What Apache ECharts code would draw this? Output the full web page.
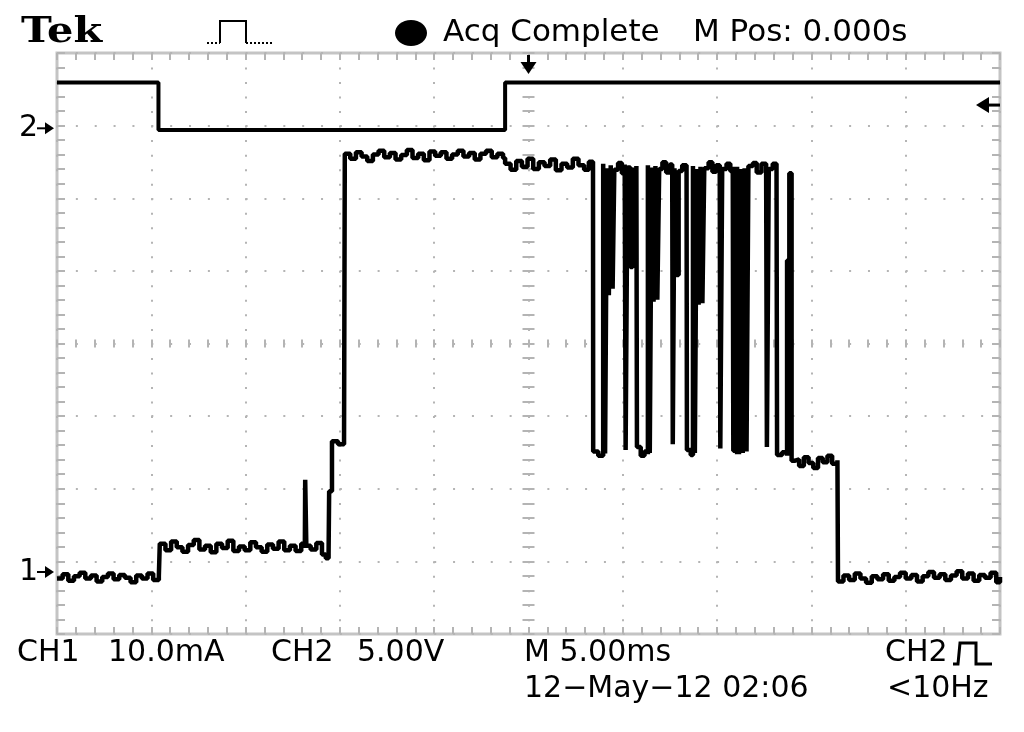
<!DOCTYPE html>
<html>
<head>
<meta charset="utf-8">
<title>Tek capture - CH1 current / CH2 voltage</title>
<script src="https://cdn.jsdelivr.net/npm/echarts@6/dist/echarts.min.js"></script>
<style>
  html, body { margin: 0; padding: 0; background: #fff; }
  #chart { width: 1024px; height: 732px; }
</style>
</head>
<body>
<div id="chart"></div>
<script>
// horizontal: 5.00 ms/div over 10 div, M Pos 0.000s -> trigger at centre
const timeRange = [-25, 25]

// CH1 (mA), [time ms, current mA]
const ch1Trace = [
  // idle
  [-25, -0.9], [-24.7, -0.3], [-24.4, -1.2], [-24.1, -0.6], [-23.8, -0.1], [-23.5, -0.9],
  [-23.2, -0.5], [-22.9, -1.3], [-22.6, -0.7], [-22.3, -0.2], [-22.0, -1.0], [-21.7, -0.4],
  [-21.4, -0.8], [-21.1, -1.4], [-20.8, -0.5], [-20.5, -0.9], [-20.2, -0.2], [-19.9, -1.1],
  [-19.6, -0.6],
  // first step
  [-19.55, 3.9], [-19.25, 3.0], [-18.95, 4.2], [-18.65, 3.4], [-18.35, 2.8], [-18.05, 3.7],
  [-17.75, 4.4], [-17.45, 3.1], [-17.15, 3.6], [-16.85, 2.7], [-16.55, 3.9], [-16.25, 3.3],
  [-15.95, 4.3], [-15.65, 2.9], [-15.35, 3.5], [-15.05, 3.0], [-14.75, 4.1], [-14.45, 3.4],
  [-14.15, 2.8], [-13.85, 3.8], [-13.55, 3.2], [-13.25, 4.2], [-12.95, 3.0], [-12.65, 3.6],
  [-12.35, 2.9], [-12.05, 3.9], [-11.86, 3.3], [-11.84, 12.7], [-11.78, 3.6], [-11.55, 3.1],
  [-11.25, 4.0], [-10.95, 2.4], [-10.75, 1.9], [-10.6, 2.5],
  [-10.57, 11.1], [-10.42, 11.2], [-10.42, 18.0], [-10.1, 17.6], [-9.78, 18.0],
  // full load
  [-9.74, 57.6], [-9.45, 56.9], [-9.15, 57.8], [-8.85, 57.2], [-8.55, 56.6], [-8.25, 57.5],
  [-7.95, 58.0], [-7.65, 57.1], [-7.35, 57.7], [-7.05, 56.8], [-6.75, 57.4], [-6.45, 58.1],
  [-6.15, 57.0], [-5.85, 57.6], [-5.55, 56.7], [-5.25, 57.9], [-4.95, 57.3], [-4.65, 57.8],
  [-4.35, 56.9], [-4.05, 57.5], [-3.75, 58.0], [-3.45, 57.2], [-3.15, 57.7], [-2.85, 56.8],
  [-2.55, 57.6], [-2.25, 58.0], [-1.95, 57.1], [-1.65, 57.6], [-1.35, 57.0],
  [-1.24, 56.2], [-0.95, 55.4], [-0.65, 56.6], [-0.35, 55.8], [-0.05, 56.9], [0.25, 55.5],
  [0.55, 56.4], [0.85, 55.9], [1.15, 56.8], [1.45, 55.3], [1.75, 56.2], [2.05, 55.7],
  [2.35, 56.9], [2.65, 56.0], [2.95, 55.4], [3.2, 56.5], [3.42, 56.0],
  // burst (several overlaid acquisitions)
  [3.43, 16.6], [3.7, 16.0], [3.96, 16.5],
  [3.96, 56.2], [4.06, 56.2], [4.06, 16.3], [4.16, 16.3], [4.16, 55.6], [4.26, 55.6],
  [4.26, 38.1], [4.36, 38.1], [4.36, 56.0], [4.46, 56.0], [4.46, 39.0], [4.55, 39.0],
  [4.55, 55.4], [4.75, 56.3], [4.95, 54.9], [5.1, 56.1],
  [5.15, 16.8], [5.25, 16.8], [5.25, 55.7], [5.4, 55.7], [5.4, 42.0], [5.52, 42.0],
  [5.52, 55.4], [5.72, 55.9],
  [5.75, 17.2], [5.95, 16.0], [6.15, 16.6], [6.33, 16.2],
  [6.33, 56.0], [6.43, 56.0], [6.43, 16.4], [6.53, 16.4], [6.53, 55.7], [6.63, 55.7],
  [6.63, 37.2], [6.73, 37.2], [6.73, 55.9], [6.83, 55.9], [6.83, 37.5], [6.93, 37.5],
  [6.93, 55.5], [7.1, 56.4], [7.3, 55.0], [7.5, 56.1], [7.62, 55.5],
  [7.65, 17.6], [7.74, 17.6], [7.74, 55.6], [7.84, 55.6], [7.84, 40.9], [7.96, 40.9],
  [7.96, 55.2], [8.15, 56.0], [8.38, 55.4],
  [8.4, 16.8], [8.6, 16.1], [8.72, 16.6],
  [8.72, 55.9], [8.82, 55.9], [8.82, 16.4], [8.92, 16.4], [8.92, 55.5], [9.02, 55.5],
  [9.02, 36.8], [9.12, 36.8], [9.12, 55.8], [9.22, 55.8], [9.22, 37.0], [9.32, 37.0],
  [9.32, 55.6], [9.55, 56.4], [9.75, 55.1], [9.95, 56.0], [10.14, 55.4],
  [10.17, 17.0], [10.27, 17.0], [10.27, 55.5], [10.5, 56.2], [10.7, 55.2], [10.83, 55.8],
  [10.86, 16.7], [11.06, 16.2],
  [11.06, 55.8], [11.16, 55.8], [11.16, 16.2], [11.26, 16.2], [11.26, 55.5], [11.36, 55.5],
  [11.36, 16.4], [11.46, 16.4], [11.46, 55.6], [11.56, 55.6], [11.56, 16.6], [11.66, 16.6],
  [11.66, 55.9], [11.9, 56.3], [12.1, 55.0], [12.35, 56.2], [12.6, 55.4],
  [12.64, 17.2], [12.74, 17.2], [12.74, 55.5], [12.95, 56.2], [13.15, 55.6],
  [13.18, 16.1], [13.45, 16.5], [13.71, 16.0],
  [13.71, 42.9], [13.83, 42.9], [13.83, 54.9], [13.95, 54.9], [13.95, 15.3],
  // tail
  [14.1, 15.5], [14.35, 14.6], [14.6, 15.8], [14.85, 15.0], [15.1, 14.3], [15.35, 15.7],
  [15.6, 15.1], [15.85, 16.0], [16.1, 14.9], [16.38, 15.4],
  // idle again
  [16.41, -1.3], [16.7, -0.5], [17.0, -1.1], [17.3, -0.2], [17.6, -0.9], [17.9, -1.5],
  [18.2, -0.6], [18.5, -1.0], [18.8, -0.3], [19.1, -1.2], [19.4, -0.7], [19.7, -0.1],
  [20.0, -0.9], [20.3, -0.4], [20.6, -1.3], [20.9, -0.6], [21.2, 0.0], [21.5, -0.8],
  [21.8, -0.3], [22.1, -1.1], [22.4, -0.5], [22.7, 0.1], [23.0, -0.9], [23.3, -0.2],
  [23.6, -1.2], [23.9, -0.4], [24.2, -0.8], [24.5, -0.1], [24.8, -1.4], [25.0, -0.7]
]

// CH2 (V), [time ms, volts]
const ch2Trace = [
  [-25, 3.15], [-19.62, 3.15], [-19.62, -0.12], [-1.24, -0.12], [-1.24, 3.15], [25, 3.15]
]

const triggerTime = 0      // ms
const triggerLevel = 1.6   // V on CH2

const headerLabels = ['Tek', 'Acq Complete', 'M Pos: 0.000s']
const scaleLabels = ['CH1', '10.0mA', 'CH2', '5.00V', 'M 5.00ms', 'CH2']
const statusLabels = ['12\u2212May\u221212 02:06', '<10Hz']

// vertical setup in divisions (8 div on screen)
const ch1 = { perDiv: 10, ground: 0.854 }
const ch2 = { perDiv: 5, ground: 6.963 }

const gray = '#b4b4b4'
const FONT = '30px "DejaVu Sans"'

const chart = echarts.init(document.getElementById('chart'))

function tickAxis(position, max, inside, length, offset) {
  return {
    type: 'value', position: position, offset: offset || 0,
    min: 0, max: max, interval: 1,
    axisLine: { show: false, onZero: false },
    axisLabel: { show: false },
    splitLine: { show: false },
    axisTick: { show: true, inside: inside, length: length, lineStyle: { color: gray, width: 2 } }
  }
}

chart.setOption({
  animation: false,
  backgroundColor: '#fff',
  grid: { left: 57, right: 24, top: 53, bottom: 98, show: true, borderColor: '#c4c4c4', borderWidth: 3 },
  xAxis: [
    {
      type: 'value', min: timeRange[0], max: timeRange[1], interval: 5, position: 'bottom',
      axisLine: { show: false, onZero: false }, axisTick: { show: false }, axisLabel: { show: false },
      splitLine: { show: true, lineStyle: { color: gray, width: 2, type: [2, 12.52] } }
    },
    tickAxis('top', 50, true, 7),
    tickAxis('bottom', 50, true, 7),
    tickAxis('bottom', 50, true, 4, -290.5),
    tickAxis('bottom', 50, false, 4, -290.5)
  ],
  yAxis: [
    {
      type: 'value', min: 0, max: 8, interval: 1, position: 'left',
      axisLine: { show: false, onZero: false }, axisTick: { show: false }, axisLabel: { show: false },
      splitLine: { show: true, lineStyle: { color: gray, width: 2, type: [2, 16.86] } }
    },
    tickAxis('left', 40, true, 8),
    tickAxis('right', 40, true, 8),
    tickAxis('left', 40, true, 6, -471.5),
    tickAxis('left', 40, false, 6, -471.5),
    { type: 'value', show: false, min: -ch1.ground * ch1.perDiv, max: (8 - ch1.ground) * ch1.perDiv,
      axisLine: { onZero: false } },
    { type: 'value', show: false, min: -ch2.ground * ch2.perDiv, max: (8 - ch2.ground) * ch2.perDiv,
      axisLine: { onZero: false } }
  ],
  series: [
    {
      name: 'CH1', type: 'line', xAxisIndex: 0, yAxisIndex: 5, data: ch1Trace,
      step: 'end', showSymbol: false, z: 5,
      lineStyle: { color: '#000', width: 4.5 }
    },
    {
      name: 'CH2', type: 'line', xAxisIndex: 0, yAxisIndex: 6, data: ch2Trace,
      showSymbol: false, z: 5,
      lineStyle: { color: '#000', width: 4 }
    }
  ]
})

// screen markers placed through the axes
const trigX = chart.convertToPixel({ xAxisIndex: 0 }, triggerTime)
const trigY = chart.convertToPixel({ yAxisIndex: 6 }, triggerLevel)
const gnd1 = chart.convertToPixel({ yAxisIndex: 5 }, 0)
const gnd2 = chart.convertToPixel({ yAxisIndex: 6 }, 0)

function txt(text, x, y, font) {
  return { type: 'text', x: x, y: y, z: 10,
    style: { text: text, font: font || FONT, fill: '#000', align: 'left', verticalAlign: 'middle' } }
}
function line(points, width, dash) {
  return { type: 'polyline', z: 10, shape: { points: points },
    style: { stroke: '#000', lineWidth: width, fill: null, lineDash: dash || null } }
}
function tri(points) {
  return { type: 'polygon', z: 10, shape: { points: points }, style: { fill: '#000' } }
}
function groundMark(label, y) {
  return [
    txt(label, 19, y),
    line([[37, y], [46, y]], 2),
    tri([[54, y], [45, y - 6], [45, y + 6]])
  ]
}

const tek = txt(headerLabels[0], 21, 33, 'bold 36px "DejaVu Serif"')
tek.scaleX = 1.15

chart.setOption({
  graphic: [
    tek,
    line([[207, 43], [220, 43]], 2, [2, 2]),
    line([[220, 43], [220, 21], [246, 21], [246, 43]], 2),
    line([[246, 43], [272, 43]], 2, [2, 2]),
    { type: 'ellipse', z: 10, shape: { cx: 411, cy: 33, rx: 16, ry: 13 }, style: { fill: '#000' } },
    txt(headerLabels[1], 443, 33, '31px "DejaVu Sans"'),
    txt(headerLabels[2], 693, 33, '31px "DejaVu Sans"'),

    // trigger position (top) and trigger level (right)
    line([[trigX, 55], [trigX, 64]], 3),
    tri([[trigX - 8, 62], [trigX + 8, 62], [trigX, 74]]),
    tri([[976, trigY], [989, trigY - 8], [989, trigY + 8]]),
    line([[988, trigY], [1000, trigY]], 3),

    ...groundMark('2', gnd2),
    ...groundMark('1', gnd1),

    txt(scaleLabels[0], 17, 653),
    txt(scaleLabels[1], 108, 653),
    txt(scaleLabels[2], 271, 653),
    txt(scaleLabels[3], 357, 653),
    txt(scaleLabels[4], 524, 653),
    txt(scaleLabels[5], 885, 653),
    line([[953, 664], [958, 664], [960, 643], [976, 643], [976, 664], [992, 664]], 3),
    txt(statusLabels[0], 524, 689),
    txt(statusLabels[1], 887, 689)
  ]
})
</script>
</body>
</html>
